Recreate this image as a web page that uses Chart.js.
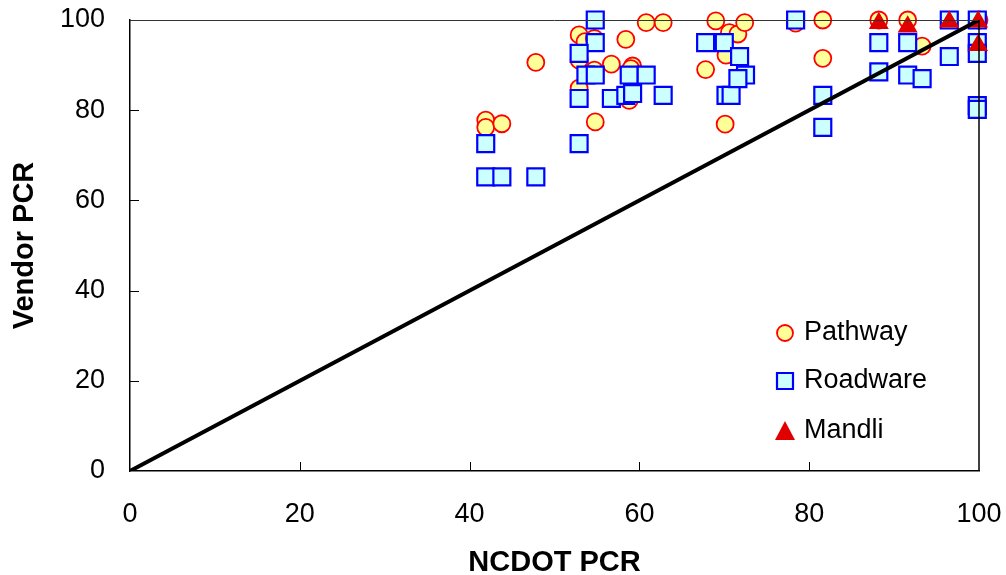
<!DOCTYPE html>
<html>
<head>
<meta charset="utf-8">
<script src="https://cdn.jsdelivr.net/npm/chart.js@4/dist/chart.umd.min.js"></script>
<style>
  html, body { margin: 0; padding: 0; background: #fff; }
  #wrap { width: 1006px; height: 575px; }
</style>
</head>
<body>
<div id="wrap"><canvas id="pcr-chart" width="1006" height="575"></canvas></div>
<script>
// NCDOT PCR (x) vs vendor PCR (y)
const pathway = [
    [47.8, 90.6], [41.9, 77.8], [41.9, 76.2], [43.8, 77.0], [52.9, 96.7], [53.6, 95.2],
    [54.7, 95.9], [52.9, 91.1], [54.7, 88.9], [52.9, 84.9], [54.8, 77.4], [58.4, 95.7],
    [56.7, 90.2], [59.2, 89.8], [59.0, 89.2], [58.8, 82.2], [60.8, 99.4], [62.8, 99.4],
    [69.0, 99.8], [67.8, 89.0], [70.1, 76.9], [70.2, 92.2], [70.6, 97.2], [71.6, 96.9],
    [72.4, 99.4], [78.4, 99.3], [81.6, 100], [81.6, 91.5], [88.2, 100], [91.6, 100],
    [93.3, 94.2], [100, 100]
];
const roadware = [
    [54.8, 100], [54.8, 95], [52.9, 92.6], [53.7, 87.8], [54.8, 87.8], [52.9, 82.6],
    [56.7, 82.6], [58.8, 87.8], [60.8, 87.8], [58.4, 83.3], [59.2, 83.7], [62.8, 83.3],
    [41.9, 72.6], [52.9, 72.6], [41.9, 65.2], [43.8, 65.2], [47.8, 65.2], [67.8, 95],
    [70.0, 95], [70.2, 83.3], [70.8, 83.3], [71.8, 91.9], [72.5, 87.8], [71.6, 87],
    [78.4, 100], [81.6, 83.3], [81.6, 76.2], [88.2, 95], [88.2, 88.5], [91.6, 95],
    [91.6, 87.8], [93.3, 87], [96.5, 100], [96.5, 91.9], [99.8, 100], [99.8, 95],
    [99.8, 92.6], [99.8, 81], [99.8, 80.2]
];
const mandli = [
    [88.2, 99.3], [91.6, 98.5], [96.5, 99.6], [99.9, 99.6], [99.9, 94.4]
];
const equality_line = [[0, 0], [100, 100]];
const axis_ticks = [0, 20, 40, 60, 80, 100];

const to_points = (arr) => arr.map(([x, y]) => ({x, y}));

const font_family = "'Liberation Sans', Arial, sans-serif";

// fixed box sizes, no automatic label padding
const fix_box = (size) => (scale) => {
    if (scale.isHorizontal()) scale.height = size; else scale.width = size;
    scale.paddingTop = scale.paddingBottom = scale.paddingLeft = scale.paddingRight = 0;
};

// frame, inside tick marks and the in-plot legend
const framePlugin = {
    id: 'frame',
    afterDatasetsDraw(chart) {
        const {ctx, chartArea: a, scales} = chart;
        ctx.save();
        ctx.strokeStyle = '#333';
        ctx.lineWidth = 1;
        ctx.beginPath();
        ctx.moveTo(a.left, a.top + 0.5);
        ctx.lineTo(a.right, a.top + 0.5);
        ctx.stroke();
        ctx.strokeStyle = '#000';
        ctx.lineWidth = 1.5;
        ctx.beginPath();
        ctx.moveTo(a.right, a.top);
        ctx.lineTo(a.right, a.bottom);
        ctx.stroke();

        ctx.lineWidth = 1;
        ctx.beginPath();
        axis_ticks.slice(1, -1).forEach((v) => {
            const px = Math.round(scales.x.getPixelForValue(v)) + 0.5;
            ctx.moveTo(px, a.bottom);
            ctx.lineTo(px, a.bottom - 9);
            const py = Math.round(scales.y.getPixelForValue(v)) + 0.5;
            ctx.moveTo(a.left, py);
            ctx.lineTo(a.left + 9, py);
        });
        ctx.stroke();

        // legend
        const rows = [333, 381, 431];
        const mx = 785, tx = 804;
        chart.data.datasets.slice(0, 3).forEach((ds, i) => {
            const y = rows[i];
            ctx.fillStyle = ds.backgroundColor;
            ctx.strokeStyle = ds.borderColor;
            ctx.lineWidth = ds.borderWidth;
            ctx.beginPath();
            if (ds.pointStyle === 'circle') {
                ctx.arc(mx, y, 8, 0, Math.PI * 2);
            } else if (ds.pointStyle === 'rect') {
                ctx.rect(mx - 8, y - 8, 16, 16);
            } else {
                ctx.moveTo(mx, y - 10);
                ctx.lineTo(mx + 10, y + 9);
                ctx.lineTo(mx - 10, y + 9);
                ctx.closePath();
            }
            ctx.fill();
            if (ds.borderWidth) ctx.stroke();
            ctx.fillStyle = '#000';
            ctx.font = '27px ' + font_family;
            ctx.textBaseline = 'middle';
            ctx.textAlign = 'left';
            ctx.fillText(ds.label, tx, y);
        });
        ctx.restore();
    }
};

const ctx = document.getElementById('pcr-chart').getContext('2d');

const pcrChart = new Chart(ctx, {
    type: 'scatter',
    data: {
        datasets: [
            {
                label: 'Pathway',
                data: to_points(pathway),
                pointStyle: 'circle',
                pointRadius: 8.5,
                pointHoverRadius: 8.5,
                backgroundColor: '#ffff99',
                borderColor: '#ff0000',
                borderWidth: 1.8,
                clip: false,
                order: 4
            },
            {
                label: 'Roadware',
                data: to_points(roadware),
                pointStyle: 'rect',
                pointRadius: 12,
                pointHoverRadius: 12,
                backgroundColor: '#ccffff',
                borderColor: '#0000ff',
                borderWidth: 2.2,
                clip: false,
                order: 3
            },
            {
                label: 'Mandli',
                data: to_points(mandli),
                pointStyle: 'triangle',
                pointRadius: 11.5,
                pointHoverRadius: 11.5,
                backgroundColor: '#e00000',
                borderColor: '#e00000',
                borderWidth: 0,
                clip: false,
                order: 2
            },
            {
                type: 'line',
                label: 'line',
                data: to_points(equality_line),
                borderColor: '#000',
                borderWidth: 4,
                pointRadius: 0,
                fill: false,
                order: 1
            }
        ]
    },
    options: {
        responsive: false,
        animation: false,
        layout: {padding: {top: 20, right: 27, left: 0, bottom: 0}},
        plugins: {
            legend: {display: false},
            tooltip: {enabled: false}
        },
        scales: {
            x: {
                type: 'linear',
                min: 0,
                max: 100,
                afterFit: fix_box(104),
                afterBuildTicks: (scale) => { scale.ticks = axis_ticks.map((value) => ({value})); },
                grid: {display: false, drawTicks: false, tickLength: 0},
                border: {display: true, color: '#000', width: 1.5},
                ticks: {
                    color: '#000',
                    padding: 27,
                    maxRotation: 0,
                    font: {family: font_family, size: 27}
                },
                title: {
                    display: true,
                    text: 'NCDOT PCR',
                    color: '#000',
                    padding: {top: 0, bottom: 0},
                    font: {family: font_family, size: 29, weight: 'bold', lineHeight: 0.8}
                }
            },
            y: {
                type: 'linear',
                min: 0,
                max: 100,
                afterFit: fix_box(130),
                afterBuildTicks: (scale) => { scale.ticks = axis_ticks.map((value) => ({value})); },
                grid: {display: false, drawTicks: false, tickLength: 0},
                border: {display: true, color: '#000', width: 1.5},
                ticks: {
                    color: '#000',
                    padding: 25,
                    font: {family: font_family, size: 27}
                },
                title: {
                    display: true,
                    text: 'Vendor PCR',
                    color: '#000',
                    padding: {top: 13, bottom: 0},
                    font: {family: font_family, size: 29, weight: 'bold', lineHeight: 0.8}
                }
            }
        }
    },
    plugins: [framePlugin]
});
</script>
</body>
</html>
